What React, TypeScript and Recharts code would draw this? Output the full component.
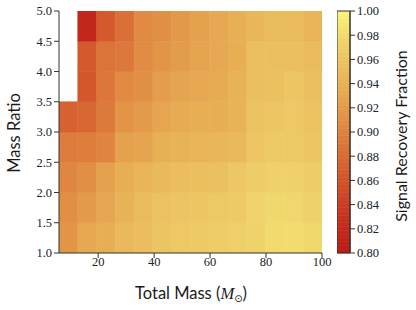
import { ScatterChart, Scatter, XAxis, YAxis, ReferenceArea } from "recharts"

// bin edges of the grid
const MASS_EDGES = [6, 12.71, 19.43, 26.14, 32.86, 39.57, 46.29, 53, 59.71, 66.43, 73.14, 79.86, 86.57, 93.29, 100]
const RATIO_EDGES = [1.0, 1.5, 2.0, 2.5, 3.0, 3.5, 4.0, 4.5, 5.0]

const MASS_TICKS = [20, 40, 60, 80, 100]
const RATIO_TICKS = [1.0, 1.5, 2.0, 2.5, 3.0, 3.5, 4.0, 4.5, 5.0]
const CBAR_TICKS = [0.8, 0.82, 0.84, 0.86, 0.88, 0.9, 0.92, 0.94, 0.96, 0.98, 1.0]

// signal recovery fraction, one row per mass-ratio bin (bottom row first)
const RECOVERY: (number | null)[][] = [
  [0.914, 0.932, 0.937, 0.948, 0.953, 0.961, 0.964, 0.966, 0.969, 0.970, 0.973, 0.981, 0.982, 0.979],
  [0.910, 0.919, 0.930, 0.941, 0.951, 0.958, 0.961, 0.962, 0.965, 0.966, 0.974, 0.979, 0.977, 0.971],
  [0.903, 0.910, 0.925, 0.937, 0.943, 0.948, 0.953, 0.954, 0.956, 0.963, 0.968, 0.971, 0.971, 0.968],
  [0.895, 0.897, 0.902, 0.925, 0.928, 0.939, 0.941, 0.943, 0.945, 0.948, 0.962, 0.966, 0.965, 0.962],
  [0.873, 0.878, 0.893, 0.914, 0.919, 0.930, 0.935, 0.937, 0.937, 0.941, 0.959, 0.962, 0.964, 0.958],
  [null, 0.863, 0.890, 0.906, 0.910, 0.922, 0.928, 0.932, 0.935, 0.941, 0.955, 0.957, 0.962, 0.955],
  [null, 0.866, 0.888, 0.892, 0.908, 0.914, 0.921, 0.928, 0.932, 0.937, 0.954, 0.955, 0.955, 0.950],
  [null, 0.816, 0.866, 0.885, 0.906, 0.910, 0.918, 0.925, 0.932, 0.939, 0.945, 0.950, 0.950, 0.943],
]

const COLOR_STOPS: [number, string][] = [
  [0.80, "#bd1814"],
  [0.82, "#c42a1c"],
  [0.84, "#cb3d23"],
  [0.86, "#d2532b"],
  [0.88, "#d96a34"],
  [0.90, "#de823f"],
  [0.92, "#e39b4b"],
  [0.94, "#e8b156"],
  [0.96, "#ecc462"],
  [0.98, "#f1d96e"],
  [1.00, "#fcf47c"],
]

const hex = (c: string) => [1, 3, 5].map(i => parseInt(c.slice(i, i + 2), 16))

function colorFor(v: number) {
  const t = Math.max(0.8, Math.min(1, v))
  for (let i = 0; i < COLOR_STOPS.length - 1; i++) {
    const [v0, c0] = COLOR_STOPS[i]
    const [v1, c1] = COLOR_STOPS[i + 1]
    if (t <= v1) {
      const f = (t - v0) / (v1 - v0)
      const a = hex(c0), b = hex(c1)
      const m = a.map((x, k) => Math.round(x + (b[k] - x) * f))
      return `rgb(${m[0]},${m[1]},${m[2]})`
    }
  }
  return COLOR_STOPS[COLOR_STOPS.length - 1][1]
}

const cells = RECOVERY.flatMap((row, r) =>
  row.map((v, c) => ({
    x1: MASS_EDGES[c],
    x2: MASS_EDGES[c + 1],
    y1: RATIO_EDGES[r],
    y2: RATIO_EDGES[r + 1],
    x: (MASS_EDGES[c] + MASS_EDGES[c + 1]) / 2,
    y: (RATIO_EDGES[r] + RATIO_EDGES[r + 1]) / 2,
    v,
  }))
).filter(d => d.v !== null) as { x1: number; x2: number; y1: number; y2: number; x: number; y: number; v: number }[]

const CBAR_STEPS = 64
const cbarBands = Array.from({ length: CBAR_STEPS }, (_, i) => {
  const lo = 0.8 + (0.2 * i) / CBAR_STEPS
  const hi = 0.8 + (0.2 * (i + 1)) / CBAR_STEPS
  return { lo, hi, color: colorFor((lo + hi) / 2) }
})

const AXIS = "#333"
const SANS = "Lato, 'Open Sans', sans-serif"

// serif tick labels, drawn by hand so the font sticks
const SerifTick = ({ x, y, payload, textAnchor, digits }: any) => (
  <text
    x={x}
    y={y}
    dy="0.355em"
    textAnchor={textAnchor}
    fontFamily="Liberation Serif"
    fontSize={12.5}
    fill="#222"
    style={{ fontFamily: "Liberation Serif" }}
  >
    {Number(payload.value).toFixed(digits)}
  </text>
)

export default function App() {
  return (
    <div style={{ position: "absolute", left: 0, top: 0, width: 416, height: 310, background: "#fff" }}>
      <div style={{ position: "absolute", left: 0, top: 0 }}>
        <ScatterChart width={416} height={310} margin={{ top: 11, right: 94, bottom: 0, left: 0 }}>
          <XAxis
            type="number"
            dataKey="x"
            domain={[6, 100]}
            ticks={MASS_TICKS}
            allowDataOverflow
            height={57}
            tickSize={5}
            tickMargin={4}
            tick={(p: any) => <SerifTick {...p} digits={0} />}
            stroke={AXIS}
          />
          <XAxis
            xAxisId="top"
            orientation="top"
            type="number"
            domain={[6, 100]}
            ticks={MASS_TICKS}
            allowDataOverflow
            height={0}
            tickSize={5}
            tick={false}
            stroke={AXIS}
          />
          <YAxis
            type="number"
            dataKey="y"
            domain={[1, 5]}
            ticks={RATIO_TICKS}
            allowDataOverflow
            width={59}
            tickSize={5}
            tick={(p: any) => <SerifTick {...p} digits={1} />}
            stroke={AXIS}
          />
          <YAxis
            yAxisId="right"
            orientation="right"
            type="number"
            domain={[1, 5]}
            ticks={RATIO_TICKS}
            allowDataOverflow
            width={0}
            tickSize={5}
            tick={false}
            stroke={AXIS}
          />
          {cells.map((d, i) => (
            <ReferenceArea
              key={i}
              x1={d.x1}
              x2={d.x2}
              y1={d.y1}
              y2={d.y2}
              fill={colorFor(d.v)}
              fillOpacity={1}
              stroke={colorFor(d.v)}
              strokeWidth={0.6}
              ifOverflow="hidden"
            />
          ))}
          <Scatter data={cells} isAnimationActive={false} shape={() => <g />} />
        </ScatterChart>
      </div>

      <div style={{ position: "absolute", left: 337, top: 0 }}>
        <ScatterChart width={79} height={310} margin={{ top: 11, right: 0, bottom: 57, left: 0 }}>
          <XAxis type="number" dataKey="x" domain={[0, 1]} hide />
          <YAxis
            type="number"
            dataKey="y"
            orientation="right"
            domain={[0.8, 1]}
            ticks={CBAR_TICKS}
            allowDataOverflow
            width={66}
            tickSize={5}
            tick={(p: any) => <SerifTick {...p} digits={2} />}
            stroke={AXIS}
          />
          {cbarBands.map((b, i) => (
            <ReferenceArea
              key={i}
              x1={0}
              x2={1}
              y1={b.lo}
              y2={b.hi}
              fill={b.color}
              fillOpacity={1}
              stroke={b.color}
              strokeWidth={0.6}
            />
          ))}
          <ReferenceArea x1={0} x2={1} y1={0.8} y2={1} fill="none" stroke={AXIS} strokeWidth={1} />
          <Scatter data={[{ x: 0.5, y: 0.9 }]} isAnimationActive={false} shape={() => <g />} />
        </ScatterChart>
      </div>

      <svg width={416} height={310} style={{ position: "absolute", left: 0, top: 0, pointerEvents: "none" }}>
        <text x={191} y={299} textAnchor="middle" fontFamily={SANS} fontSize={16.5} fill="#1a1a1a">
          Total Mass (
          <tspan fontFamily="Liberation Serif" fontStyle="italic">M</tspan>
          <tspan fontSize={10} dy={3} fontFamily="DejaVu Sans">⊙</tspan>
          <tspan dy={-3}>)</tspan>
        </text>
        <text
          x={20}
          y={133}
          textAnchor="middle"
          fontFamily={SANS}
          fontSize={16.5}
          fill="#1a1a1a"
          transform="rotate(-90 20 133)"
        >
          Mass Ratio
        </text>
        <text
          x={407}
          y={136}
          textAnchor="middle"
          fontFamily={SANS}
          fontSize={16}
          fill="#1a1a1a"
          transform="rotate(-90 407 136)"
        >
          Signal Recovery Fraction
        </text>
      </svg>
    </div>
  )
}
